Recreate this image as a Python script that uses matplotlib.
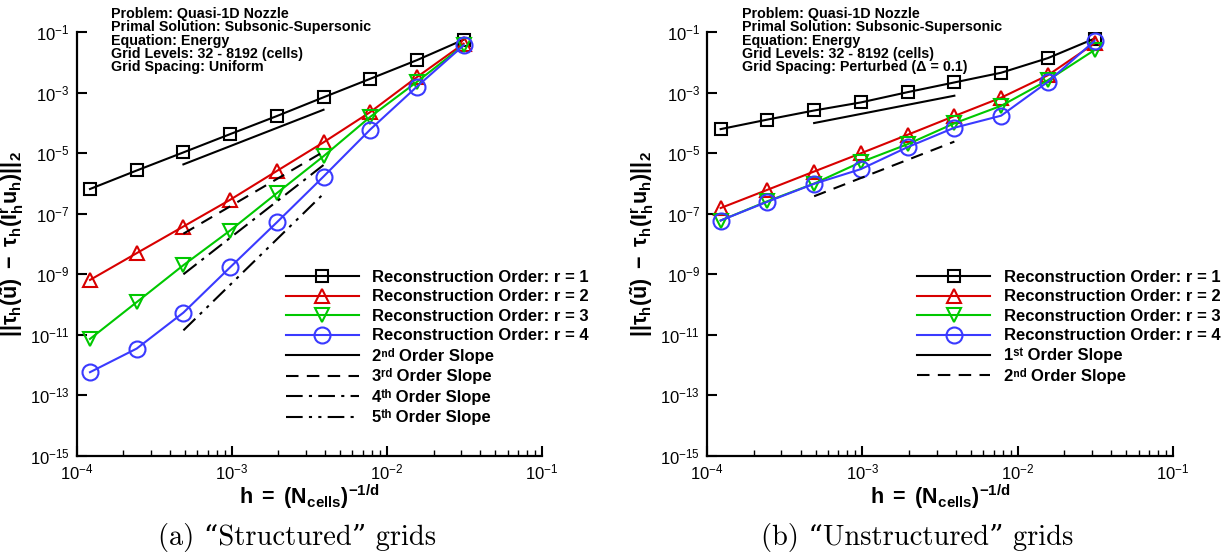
import matplotlib
matplotlib.use("Agg")
import matplotlib.pyplot as plt
from matplotlib.ticker import NullLocator, LogLocator
import numpy as np

plt.rcParams['font.family'] = ['Liberation Sans', 'DejaVu Sans']
plt.rcParams['mathtext.fontset'] = 'custom'
plt.rcParams['mathtext.rm'] = 'Liberation Sans'
plt.rcParams['mathtext.it'] = 'Liberation Sans:italic'
plt.rcParams['mathtext.bf'] = 'Liberation Sans:bold'
plt.rcParams['axes.unicode_minus'] = False

# Grid levels (cells) and mesh size h = 1/N
n_cells = [8192, 4096, 2048, 1024, 512, 256, 128, 64, 32]

# Structured grids: truncation error per reconstruction order
structured_r1 = [6.6e-7, 2.7e-6, 1.07e-5, 4.3e-5, 1.7e-4, 7.1e-4, 2.9e-3, 1.2e-2, 5.7e-2]
structured_r2 = [6.5e-10, 5.0e-9, 3.8e-8, 2.9e-7, 2.6e-6, 2.3e-5, 2.3e-4, 3.3e-3, 4.2e-2]
structured_r3 = [7.3e-12, 1.2e-10, 2.0e-9, 2.8e-8, 4.8e-7, 8.0e-6, 1.6e-4, 2.3e-3, 3.7e-2]
structured_r4 = [5.8e-13, 3.5e-12, 5.4e-11, 1.7e-9, 5.2e-8, 1.7e-6, 6.1e-5, 1.6e-3, 3.7e-2]

# Unstructured (perturbed) grids
unstructured_r1 = [6.3e-5, 1.3e-4, 2.6e-4, 4.8e-4, 1.05e-3, 2.2e-3, 4.6e-3, 1.4e-2, 6.2e-2]
unstructured_r2 = [1.55e-7, 6.2e-7, 2.5e-6, 1.0e-5, 4.1e-5, 1.7e-4, 6.9e-4, 3.8e-3, 4.3e-2]
unstructured_r3 = [6.0e-8, 2.6e-7, 1.0e-6, 5.1e-6, 2.0e-5, 9.8e-5, 3.7e-4, 2.6e-3, 2.6e-2]
unstructured_r4 = [6.0e-8, 2.5e-7, 9.8e-7, 3.0e-6, 1.6e-5, 7.0e-5, 1.75e-4, 2.3e-3, 5.2e-2]

# Reference slopes: order, value at the start cell count, line style
slope_cells = [2048, 256]
structured_slopes = [(2, 4.3e-6, '-'), (3, 2.2e-8, (0, (6, 4))),
                     (4, 1.0e-9, (0, (8, 3, 1.5, 3))), (5, 1.4e-11, (0, (8, 3, 1.5, 3, 1.5, 3)))]
unstructured_slopes = [(1, 1.0e-4, '-'), (2, 3.8e-7, (0, (6, 4)))]

structured_slope_labels = ['2\u207f\u1d48 Order Slope', '3\u02b3\u1d48 Order Slope',
                           '4\u1d57\u02b0 Order Slope', '5\u1d57\u02b0 Order Slope']
unstructured_slope_labels = ['1\u02e2\u1d57 Order Slope', '2\u207f\u1d48 Order Slope']

series_colors = ['black', '#d80000', '#00c800', '#3a3aff']
series_markers = ['s', '^', 'v', 'o']
series_sizes = [9, 10.5, 10.5, 11.5]

header_common = ("Problem: Quasi-1D Nozzle\n"
                 "Primal Solution: Subsonic-Supersonic\n"
                 "Equation: Energy\n"
                 "Grid Levels: 32 - 8192 (cells)\n")


def draw_panel(ax, series, slopes, slope_labels, legend_x):
    h = 1.0 / np.array(n_cells, dtype=float)
    handles = []
    for i, values in enumerate(series):
        line, = ax.plot(h, values, color=series_colors[i], marker=series_markers[i],
                        ms=series_sizes[i], mfc='none', mew=1.5, lw=1.5,
                        label=f'Reconstruction Order: r = {i + 1}')
        handles.append(line)

    # Reference slope lines between two grid levels
    hs = 1.0 / np.array(slope_cells, dtype=float)
    for (order, start, ls), lab in zip(slopes, slope_labels):
        vals = start * (hs / hs[0]) ** order
        line, = ax.plot(hs, vals, color='black', ls=ls, lw=1.5, label=lab)
        handles.append(line)

    ax.set_xscale('log')
    ax.set_yscale('log')
    ax.set_xlim(1e-4, 1e-1)
    ax.set_ylim(1e-15, 1e-1)
    ax.set_yticks([10.0 ** k for k in range(-15, 0, 2)])
    ax.yaxis.set_minor_locator(NullLocator())
    ax.xaxis.set_major_locator(LogLocator(base=10, numticks=10))
    ax.xaxis.set_minor_locator(LogLocator(base=10, subs=np.arange(2, 10), numticks=10))

    for side in ['top', 'right']:
        ax.spines[side].set_visible(False)
    for side in ['left', 'bottom']:
        ax.spines[side].set_linewidth(1.6)
    ax.tick_params(which='major', direction='in', length=7, width=1.5, labelsize=12, pad=5)
    ax.tick_params(which='minor', direction='in', length=4, width=1.0)

    ax.set_xlabel(r'$\mathbf{h\ =\ (N_{cells})^{-1/d}}$', fontsize=15.5, labelpad=0)
    ax.set_ylabel(r'$\mathbf{||\tau_h(\tilde{u})\ -\ \tau_h(I^r_h u_h)||_2}$', fontsize=15.5, labelpad=3)

    ax.legend(handles=handles, loc='upper left', bbox_to_anchor=(legend_x, 0.511),
              bbox_transform=ax.figure.transFigure, frameon=False, borderpad=0,
              borderaxespad=0, handlelength=4.4, handletextpad=0.8, labelspacing=0.27,
              prop={'weight': 'bold', 'size': 12})


fig = plt.figure(figsize=(12.21, 5.52), dpi=100)
ax1 = fig.add_axes([0.0627, 0.1743, 0.3812, 0.7672])
ax2 = fig.add_axes([0.5792, 0.1743, 0.3815, 0.7672])

draw_panel(ax1, [structured_r1, structured_r2, structured_r3, structured_r4],
           structured_slopes, structured_slope_labels, 0.234)
draw_panel(ax2, [unstructured_r1, unstructured_r2, unstructured_r3, unstructured_r4],
           unstructured_slopes, unstructured_slope_labels, 0.751)

fig.text(0.0907, 0.988, header_common + "Grid Spacing: Uniform",
         fontsize=10.3, fontweight='bold', va='top', ha='left', linespacing=0.95)
fig.text(0.6075, 0.988, header_common + "Grid Spacing: Perturbed (\u0394 = 0.1)",
         fontsize=10.3, fontweight='bold', va='top', ha='left', linespacing=0.95)

# Sub-figure captions
fig.text(297 / 1221, 1 - 537 / 552, '(a) \u201cStructured\u201d grids', fontsize=20.5,
         family=['cmr10', 'DejaVu Serif'], ha='center', va='center')
fig.text(917 / 1221, 1 - 537 / 552, '(b) \u201cUnstructured\u201d grids', fontsize=20.5,
         family=['cmr10', 'DejaVu Serif'], ha='center', va='center')

fig.savefig('out.png', dpi=100)
